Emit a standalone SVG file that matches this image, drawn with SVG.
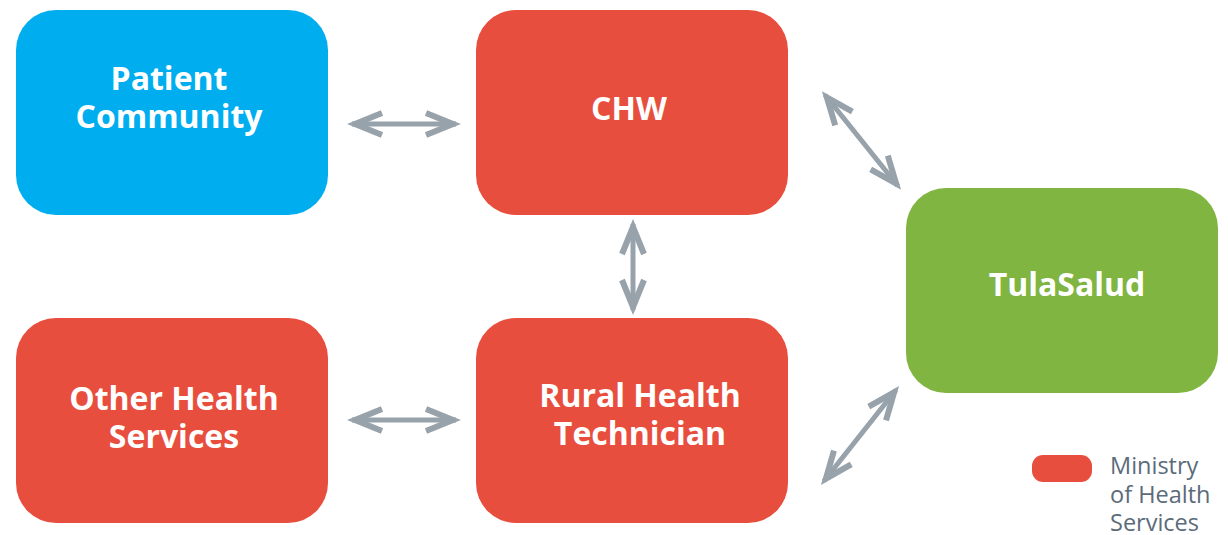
<svg xmlns="http://www.w3.org/2000/svg" width="1228" height="535" viewBox="0 0 1228 535">
<style>
.box{stroke:none}
.red{fill:#e84e3d}
.blue{fill:#00aeef}
.green{fill:#80b541}
.lbl{font-family:"Open Sans","Liberation Sans",sans-serif;font-weight:bold;font-size:32px;fill:#ffffff;text-anchor:middle}
.leg{font-family:"Open Sans","Liberation Sans",sans-serif;font-size:23.5px;fill:#5b6b7a}
.conn{stroke:#97a2ab;stroke-width:5;fill:none;marker-start:url(#ah);marker-end:url(#ah)}
</style>
<defs>
<marker id="ah" markerUnits="userSpaceOnUse" viewBox="-40 -20 50 40" refX="0" refY="0" markerWidth="50" markerHeight="40" orient="auto-start-reverse">
<path d="M -30 -11 L -3 0 L -30 11" fill="none" stroke="#97a2ab" stroke-width="6" stroke-linejoin="miter" stroke-miterlimit="10"/>
</marker>
</defs>
<rect width="1228" height="535" fill="#ffffff"/>
<g id="connectors">
<line class="conn" x1="352" y1="124" x2="456" y2="124"/>
<line class="conn" x1="352" y1="420" x2="456" y2="420"/>
<line class="conn" x1="633" y1="224" x2="633" y2="310"/>
<line class="conn" x1="825" y1="95" x2="898" y2="186"/>
<line class="conn" x1="824" y1="481" x2="896" y2="390"/>
</g>
<g id="patient-community">
<rect class="box blue" x="16" y="10" width="312" height="205" rx="40"/>
<text class="lbl" x="169" y="90">Patient</text>
<text class="lbl" x="169" y="128">Community</text>
</g>
<g id="chw">
<rect class="box red" x="476" y="10" width="312" height="205" rx="40"/>
<text class="lbl" x="629" y="120">CHW</text>
</g>
<g id="tulasalud">
<rect class="box green" x="906" y="188" width="312" height="205" rx="40"/>
<text class="lbl" x="1067" y="296">TulaSalud</text>
</g>
<g id="other-health-services">
<rect class="box red" x="16" y="318" width="312" height="205" rx="40"/>
<text class="lbl" x="174" y="410">Other Health</text>
<text class="lbl" x="174" y="448">Services</text>
</g>
<g id="rural-health-technician">
<rect class="box red" x="476" y="318" width="312" height="205" rx="40"/>
<text class="lbl" x="640" y="407">Rural Health</text>
<text class="lbl" x="640" y="445">Technician</text>
</g>
<g id="legend">
<rect class="red" x="1032" y="455" width="60" height="27" rx="11"/>
<text class="leg" x="1110" y="474">Ministry</text>
<text class="leg" x="1110" y="503">of Health</text>
<text class="leg" x="1110" y="531">Services</text>
</g>
</svg>
